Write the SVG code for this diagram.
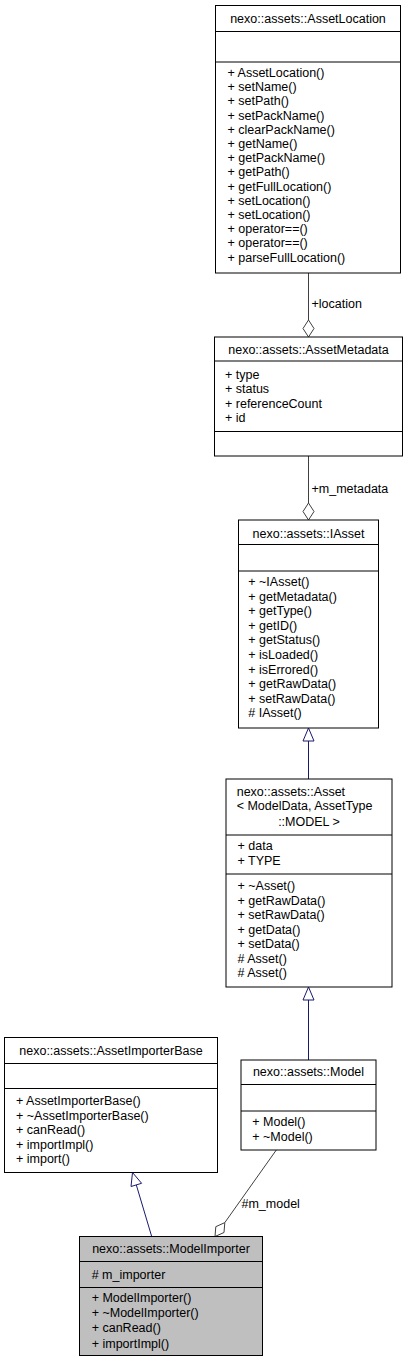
<svg xmlns="http://www.w3.org/2000/svg" width="408" height="1363" viewBox="0 0 408 1363">
<style>
.box{fill:#ffffff;stroke:#000000;stroke-width:1}
.boxg{fill:#bfbfbf;stroke:#000000;stroke-width:1}
.sep{stroke:#000000;stroke-width:1}
text{font-family:"Liberation Sans",Arial,sans-serif;font-size:12.5px;fill:#000000}
.c{text-anchor:middle}
.inh{stroke:#191970;stroke-width:1;fill:none}
.inhHead{stroke:#191970;stroke-width:1;fill:#ffffff}
.agg{stroke:#404040;stroke-width:1;fill:none}
.aggHead{stroke:#404040;stroke-width:1;fill:#ffffff}
</style>
<rect width="408" height="1363" fill="#ffffff"/>
<g id="connectors">
  <line class="agg" x1="308.5" y1="273" x2="308.5" y2="320"/>
  <polygon class="aggHead" points="308.5,320 314,328.5 308.5,337 303,328.5"/>
  <text x="311.5" y="308.3">+location</text>
  <line class="agg" x1="308.5" y1="456" x2="308.5" y2="503"/>
  <polygon class="aggHead" points="308.5,503 314,511.5 308.5,520 303,511.5"/>
  <text x="311.5" y="492.6">+m_metadata</text>
  <line class="inh" x1="308.5" y1="741" x2="308.5" y2="779"/>
  <polygon class="inhHead" points="308.5,728 314,741 303,741"/>
  <line class="inh" x1="308.5" y1="1000" x2="308.5" y2="1060"/>
  <polygon class="inhHead" points="308.5,987 314,1000 303,1000"/>
  <line class="inh" x1="136.3" y1="1184.9" x2="151.7" y2="1236.5"/>
  <polygon class="inhHead" points="132.5,1172.5 141.6,1183.3 131,1186.5"/>
  <line class="agg" x1="276.3" y1="1150" x2="224.8" y2="1222.6"/>
  <polygon class="aggHead" points="224.8,1222.6 224,1232.5 215,1236.5 215.8,1226.7"/>
  <text x="241.5" y="1208">#m_model</text>
</g>
<g id="AssetLocation">
  <rect class="box" x="215.5" y="5.5" width="185" height="267.5"/>
  <line class="sep" x1="215.5" y1="31.5" x2="400.5" y2="31.5"/>
  <line class="sep" x1="215.5" y1="62" x2="400.5" y2="62"/>
  <text class="c" x="308" y="22.8">nexo::assets::AssetLocation</text>
  <text x="227.5" y="77">+ AssetLocation()</text>
  <text x="227.5" y="91.2">+ setName()</text>
  <text x="227.5" y="105.4">+ setPath()</text>
  <text x="227.5" y="119.6">+ setPackName()</text>
  <text x="227.5" y="133.8">+ clearPackName()</text>
  <text x="227.5" y="148">+ getName()</text>
  <text x="227.5" y="162.2">+ getPackName()</text>
  <text x="227.5" y="176.4">+ getPath()</text>
  <text x="227.5" y="190.6">+ getFullLocation()</text>
  <text x="227.5" y="204.8">+ setLocation()</text>
  <text x="227.5" y="219">+ setLocation()</text>
  <text x="227.5" y="233.2">+ operator==()</text>
  <text x="227.5" y="247.4">+ operator==()</text>
  <text x="227.5" y="261.6">+ parseFullLocation()</text>
</g>
<g id="AssetMetadata">
  <rect class="box" x="214.5" y="337" width="188" height="119"/>
  <line class="sep" x1="214.5" y1="361" x2="402.5" y2="361"/>
  <line class="sep" x1="214.5" y1="431.5" x2="402.5" y2="431.5"/>
  <text class="c" x="308.5" y="353.6">nexo::assets::AssetMetadata</text>
  <text x="225" y="378.5">+ type</text>
  <text x="225" y="393">+ status</text>
  <text x="225" y="407.5">+ referenceCount</text>
  <text x="225" y="422">+ id</text>
</g>
<g id="IAsset">
  <rect class="box" x="238.5" y="520" width="140" height="208"/>
  <line class="sep" x1="238.5" y1="544.5" x2="378.5" y2="544.5"/>
  <line class="sep" x1="238.5" y1="571" x2="378.5" y2="571"/>
  <text class="c" x="308.5" y="537.6">nexo::assets::IAsset</text>
  <text x="248.3" y="586">+ ~IAsset()</text>
  <text x="248.3" y="600.6">+ getMetadata()</text>
  <text x="248.3" y="615.2">+ getType()</text>
  <text x="248.3" y="629.8">+ getID()</text>
  <text x="248.3" y="644.4">+ getStatus()</text>
  <text x="248.3" y="659">+ isLoaded()</text>
  <text x="248.3" y="673.6">+ isErrored()</text>
  <text x="248.3" y="688.2">+ getRawData()</text>
  <text x="248.3" y="702.8">+ setRawData()</text>
  <text x="248.3" y="717.4"># IAsset()</text>
</g>
<g id="Asset">
  <rect class="box" x="226" y="779" width="166" height="208"/>
  <line class="sep" x1="226" y1="835" x2="392" y2="835"/>
  <line class="sep" x1="226" y1="874" x2="392" y2="874"/>
  <text x="236.7" y="796">nexo::assets::Asset</text>
  <text x="236.7" y="810.3">&lt; ModelData, AssetType</text>
  <text class="c" x="309" y="826">::MODEL &gt;</text>
  <text x="237.5" y="850.3">+ data</text>
  <text x="237.5" y="864.5">+ TYPE</text>
  <text x="237.5" y="890">+ ~Asset()</text>
  <text x="237.5" y="904.5">+ getRawData()</text>
  <text x="237.5" y="919">+ setRawData()</text>
  <text x="237.5" y="933.5">+ getData()</text>
  <text x="237.5" y="948">+ setData()</text>
  <text x="237.5" y="962.5"># Asset()</text>
  <text x="237.5" y="977"># Asset()</text>
</g>
<g id="Model">
  <rect class="box" x="241" y="1060" width="135" height="90"/>
  <line class="sep" x1="241" y1="1084.5" x2="376" y2="1084.5"/>
  <line class="sep" x1="241" y1="1111" x2="376" y2="1111"/>
  <text class="c" x="308.5" y="1076">nexo::assets::Model</text>
  <text x="252.3" y="1126">+ Model()</text>
  <text x="252.3" y="1141">+ ~Model()</text>
</g>
<g id="AssetImporterBase">
  <rect class="box" x="4.5" y="1037.5" width="213" height="135"/>
  <line class="sep" x1="4.5" y1="1063.5" x2="217.5" y2="1063.5"/>
  <line class="sep" x1="4.5" y1="1088.5" x2="217.5" y2="1088.5"/>
  <text class="c" x="111" y="1055">nexo::assets::AssetImporterBase</text>
  <text x="16" y="1105">+ AssetImporterBase()</text>
  <text x="16" y="1119.5">+ ~AssetImporterBase()</text>
  <text x="16" y="1134">+ canRead()</text>
  <text x="16" y="1148.5">+ importImpl()</text>
  <text x="16" y="1163">+ import()</text>
</g>
<g id="ModelImporter">
  <rect class="boxg" x="79.5" y="1236.5" width="183" height="119"/>
  <line class="sep" x1="79.5" y1="1261.5" x2="262.5" y2="1261.5"/>
  <line class="sep" x1="79.5" y1="1287.5" x2="262.5" y2="1287.5"/>
  <text class="c" x="171" y="1253.3">nexo::assets::ModelImporter</text>
  <text x="91.7" y="1278.6"># m_importer</text>
  <text x="91.7" y="1302">+ ModelImporter()</text>
  <text x="91.7" y="1317.3">+ ~ModelImporter()</text>
  <text x="91.7" y="1332.4">+ canRead()</text>
  <text x="91.7" y="1347.5">+ importImpl()</text>
</g>
</svg>
